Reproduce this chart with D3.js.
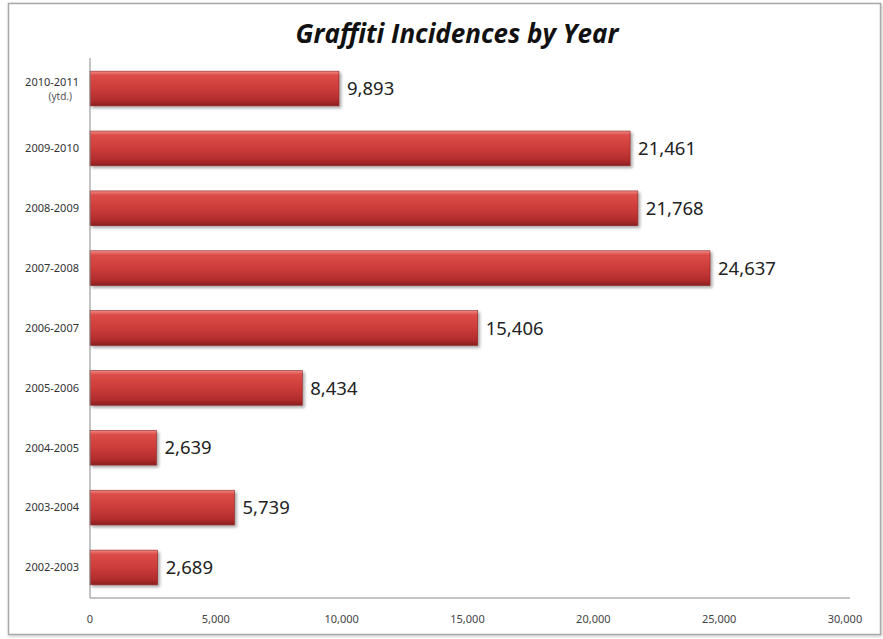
<!DOCTYPE html>
<html>
<head>
<meta charset="utf-8">
<script src="https://cdn.jsdelivr.net/npm/d3@7"></script>
<style>
  body { margin: 0; background: #fff; }
  svg { display: block; }
</style>
</head>
<body>
<svg></svg>
<script>
// data (top to bottom)
const years = ["2010-2011|(ytd.)", "2009-2010", "2008-2009", "2007-2008", "2006-2007",
               "2005-2006", "2004-2005", "2003-2004", "2002-2003"];
const incidents = [9893, 21461, 21768, 24637, 15406, 8434, 2639, 5739, 2689];
const xTicks = [0, 5000, 10000, 15000, 20000, 25000, 30000];

const width = 883;
const height = 639;
const margin = {left: 90, right: 37, top: 58, bottom: 40};

const svg = d3.select("svg")
    .attr("width", width)
    .attr("height", height);

const defs = svg.append("defs");

// glossy red for the bars
const grad = defs.append("linearGradient")
    .attr("id", "barFill")
    .attr("x1", 0).attr("y1", 0).attr("x2", 0).attr("y2", 1);
grad.selectAll("stop")
    .data([[0, "#f08a84"], [0.12, "#dc4c48"], [0.5, "#cc3c3a"], [0.85, "#b02c2c"], [1, "#8a2020"]])
    .join("stop")
        .attr("offset", d => d[0])
        .attr("stop-color", d => d[1]);

const shadow = defs.append("filter")
    .attr("id", "shadow")
    .attr("x", "-5%").attr("y", "-20%").attr("width", "115%").attr("height", "160%");
shadow.append("feDropShadow")
    .attr("dx", 2).attr("dy", 2).attr("stdDeviation", 1.5)
    .attr("flood-color", "#000").attr("flood-opacity", 0.35);

const frameShadow = defs.append("filter").attr("id", "frameShadow");
frameShadow.append("feDropShadow")
    .attr("dx", 1).attr("dy", 1).attr("stdDeviation", 1.5)
    .attr("flood-color", "#000").attr("flood-opacity", 0.25);

// outer frame
svg.append("rect")
    .attr("x", 8.5).attr("y", 3.5)
    .attr("width", 872).attr("height", 631)
    .attr("fill", "#fff")
    .attr("stroke", "#a8a8a8")
    .attr("stroke-width", 1.5)
    .attr("filter", "url(#frameShadow)");

const x = d3.scaleLinear()
    .domain([0, 30000])
    .range([margin.left, 845]);

const y = d3.scaleBand()
    .domain(years)
    .range([margin.top, height - margin.bottom - 1])
    .paddingInner(0.42)
    .paddingOuter(0.22);

// title
svg.append("text")
    .attr("x", 457)
    .attr("y", 43)
    .attr("text-anchor", "middle")
    .attr("font-family", "'Open Sans', sans-serif")
    .attr("font-style", "italic")
    .attr("font-weight", "bold")
    .attr("font-size", 26)
    .attr("fill", "#111")
    .text("Graffiti Incidences by Year");

// bars
svg.append("g")
    .selectAll("rect")
    .data(incidents)
    .join("rect")
        .attr("x", x(0))
        .attr("y", (d, i) => y(years[i]))
        .attr("width", d => x(d) - x(0))
        .attr("height", y.bandwidth())
        .attr("fill", "url(#barFill)")
        .attr("stroke", "#8c2424")
        .attr("stroke-width", 0.6)
        .attr("filter", "url(#shadow)");

// value labels
svg.append("g")
    .selectAll("text")
    .data(incidents)
    .join("text")
        .attr("x", d => x(d) + 8)
        .attr("y", (d, i) => y(years[i]) + y.bandwidth() / 2)
        .attr("dy", "0.36em")
        .attr("font-family", "'Noto Sans', sans-serif")
        .attr("font-size", 18.5)
        .attr("fill", "#222")
        .text(d3.format(",")); 

// axes lines
const axisY = height - margin.bottom - 1;
svg.append("line")
    .attr("x1", x(0)).attr("x2", x(0))
    .attr("y1", margin.top).attr("y2", axisY)
    .attr("stroke", "#888");
svg.append("line")
    .attr("x1", x(0)).attr("x2", 850)
    .attr("y1", axisY).attr("y2", axisY)
    .attr("stroke", "#888");

// x tick labels
svg.append("g")
    .selectAll("text")
    .data(xTicks)
    .join("text")
        .attr("x", d => x(d))
        .attr("y", 623)
        .attr("text-anchor", "middle")
        .attr("font-family", "'Noto Sans', sans-serif")
        .attr("font-size", 11)
        .attr("fill", "#444")
        .text(d3.format(","));

// category labels
const yLab = svg.append("g")
    .selectAll("text")
    .data(years)
    .join("text")
        .attr("x", 79)
        .attr("y", d => y(d) + y.bandwidth() / 2)
        .attr("text-anchor", "end")
        .attr("font-family", "'Noto Sans', sans-serif")
        .attr("font-size", 11)
        .attr("fill", "#333");

yLab.each(function(d) {
    const parts = d.split("|");
    const t = d3.select(this);
    if (parts.length === 1) {
        t.attr("dy", "0.35em").text(d);
    } else {
        t.append("tspan").attr("x", 79).attr("dy", "-0.2em").text(parts[0]);
        t.append("tspan").attr("x", 72).attr("dy", "1.35em").attr("font-size", 10).attr("fill", "#555").text(parts[1]);
    }
});
</script>
</body>
</html>
